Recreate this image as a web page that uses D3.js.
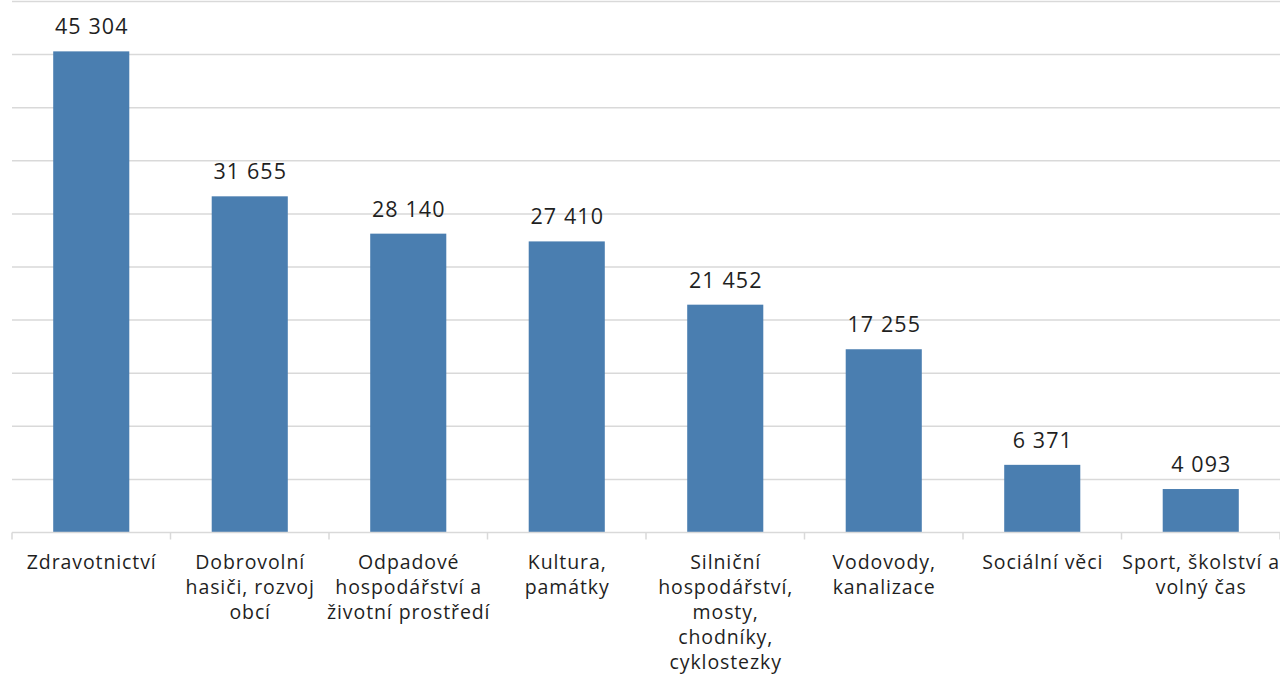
<!DOCTYPE html>
<html><head><meta charset="utf-8">
<script src="https://cdn.jsdelivr.net/npm/d3@7"></script>
<style>
html,body{margin:0;padding:0;background:#fff;overflow:hidden;}
svg{display:block;}
</style></head>
<body>
<script>
const categories = [
  "Zdravotnictví",
  "Dobrovolní hasiči, rozvoj obcí",
  "Odpadové hospodářství a životní prostředí",
  "Kultura, památky",
  "Silniční hospodářství, mosty, chodníky, cyklostezky",
  "Vodovody, kanalizace",
  "Sociální věci",
  "Sport, školství a volný čas"
];
const categoryLines = [
  ["Zdravotnictví"],
  ["Dobrovolní", "hasiči, rozvoj", "obcí"],
  ["Odpadové", "hospodářství a", "životní prostředí"],
  ["Kultura,", "památky"],
  ["Silniční", "hospodářství,", "mosty,", "chodníky,", "cyklostezky"],
  ["Vodovody,", "kanalizace"],
  ["Sociální věci"],
  ["Sport, školství a", "volný čas"]
];
const values = [45304, 31655, 28140, 27410, 21452, 17255, 6371, 4093];
const yTicks = [5000, 10000, 15000, 20000, 25000, 30000, 35000, 40000, 45000, 50000];

const W = 1280, H = 675;
const FONT = "'Open Sans', Lato, sans-serif";
const svg = d3.select("body").append("svg").attr("width", W).attr("height", H);

const x = d3.scaleBand().domain(categories).range([12, 1280]).paddingInner(0.52).paddingOuter(0.26);
const y = d3.scaleLinear().domain([0, 50000]).range([532.5, 1.5]);

// gridlines
svg.append("g").selectAll("line").data(yTicks).join("line")
  .attr("x1", 12).attr("x2", 1280)
  .attr("y1", d => y(d)).attr("y2", d => y(d))
  .attr("stroke", "#d9d9d9").attr("stroke-width", 1.5);

// bars
svg.append("g").selectAll("rect").data(values).join("rect")
  .attr("x", (d, i) => x(categories[i]))
  .attr("width", x.bandwidth())
  .attr("y", d => y(d))
  .attr("height", d => y(0) - y(d))
  .attr("fill", "#4a7eb0");

// x axis line and ticks
const bounds = d3.range(categories.length + 1).map(i => 12 + i * (1268 / categories.length));
svg.append("line").attr("x1", 12).attr("x2", 1280).attr("y1", y(0)).attr("y2", y(0))
  .attr("stroke", "#d9d9d9").attr("stroke-width", 1.5);
svg.append("g").selectAll("line").data(bounds).join("line")
  .attr("x1", d => d).attr("x2", d => d)
  .attr("y1", y(0)).attr("y2", y(0) + 7)
  .attr("stroke", "#d9d9d9").attr("stroke-width", 1.5);

// value labels
const fmt = v => d3.format(",")(v).replace(/,/g, " ");
const VLS = 1.1, CLS = 0.9;
svg.append("g").selectAll("text").data(values).join("text")
  .attr("x", (d, i) => x(categories[i]) + x.bandwidth() / 2 + VLS / 2)
  .attr("y", d => y(d) - 17)
  .attr("text-anchor", "middle")
  .attr("font-family", FONT).attr("font-size", 21.5)
  .attr("letter-spacing", VLS)
  .attr("fill", "#1f1f1f")
  .text(d => fmt(d));

// category labels
const lab = svg.append("g").selectAll("text").data(categories).join("text")
  .attr("text-anchor", "middle")
  .attr("font-family", FONT).attr("font-size", 19.5)
  .attr("letter-spacing", CLS)
  .attr("fill", "#1f1f1f");
lab.each(function(c, i) {
  const cx = x(c) + x.bandwidth() / 2 + CLS / 2;
  d3.select(this).selectAll("tspan").data(categoryLines[i]).join("tspan")
    .attr("x", cx)
    .attr("y", (d, j) => 569 + j * 25)
    .text(d => d);
});
</script>
</body></html>
